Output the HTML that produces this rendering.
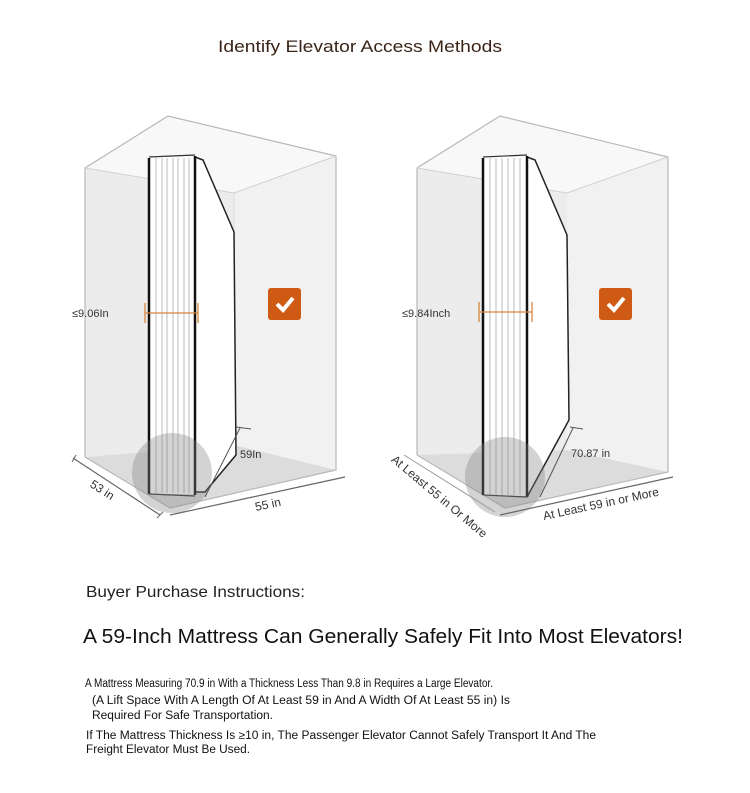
<!DOCTYPE html>
<html><head><meta charset="utf-8"><style>
html,body{margin:0;padding:0;background:#fff;}
svg{display:block;font-family:"Liberation Sans",sans-serif;}
</style></head><body>
<svg width="750" height="793" viewBox="0 0 750 793" xmlns="http://www.w3.org/2000/svg">
<rect width="750" height="793" fill="#fff"/>
<text x="218" y="52" font-size="17" fill="#3a2418" textLength="284" lengthAdjust="spacingAndGlyphs">Identify Elevator Access Methods</text>

<!-- LEFT BOX -->
<g>
<polygon points="85,168 168,116 336,156 234,193" fill="#f8f8f8"/>
<polygon points="85,168 234,193 234,445 85,457" fill="#ececec"/>
<polygon points="234,193 336,156 336,470 234,445" fill="#f1f1f1"/>
<polygon points="85,457 234,445 336,470 170,508" fill="#dcdcdc"/>
<polyline points="85,457 85,168 168,116 336,156 336,470 170,508 85,457" fill="none" stroke="#b8b8b8" stroke-width="1.2"/>
<polyline points="85,168 234,193 336,156" fill="none" stroke="#d0d0d0"/>
<line x1="234" y1="193" x2="234" y2="445" stroke="#ddd"/>
<polygon points="195,157 203,160 234,232 236,455 205,492 195,492" fill="#fff" stroke="#222" stroke-width="1.5"/>
<rect x="149" y="157" width="46" height="337" fill="#fff"/>
<g stroke="#aaa" stroke-width="0.8"><line x1="156" y1="158" x2="156" y2="493"/><line x1="162" y1="158" x2="162" y2="493"/><line x1="167" y1="158" x2="167" y2="493"/><line x1="173" y1="158" x2="173" y2="493"/><line x1="178" y1="158" x2="178" y2="493"/><line x1="184" y1="158" x2="184" y2="493"/><line x1="189" y1="158" x2="189" y2="493"/></g>
<line x1="149" y1="158" x2="149" y2="494" stroke="#111" stroke-width="2.5"/>
<line x1="195" y1="156" x2="195" y2="495" stroke="#111" stroke-width="2.5"/>
<line x1="149" y1="157" x2="195" y2="155" stroke="#333" stroke-width="1.2"/>
<line x1="149" y1="494" x2="195" y2="496" stroke="#333" stroke-width="1.2"/>
<circle cx="172" cy="473" r="40" fill="#808080" opacity="0.35"/>
<line x1="205" y1="497" x2="240" y2="428" stroke="#555" stroke-width="1"/>
<line x1="236" y1="427" x2="251" y2="429" stroke="#555"/>
<line x1="145" y1="313" x2="198" y2="313" stroke="#d7853f" stroke-width="1.3"/>
<line x1="145" y1="303" x2="145" y2="323" stroke="#d7853f" stroke-width="1.3"/>
<line x1="198" y1="303" x2="198" y2="323" stroke="#d7853f" stroke-width="1.3"/>
<text x="72" y="317" font-size="11" fill="#333">≤9.06In</text>
<text x="240" y="458" font-size="11" fill="#333">59In</text>
<rect x="268" y="288" width="33" height="32" rx="3" fill="#cf5a14"/>
<polyline points="277,304 283,310 293,298" fill="none" stroke="#fff" stroke-width="4"/>
<polyline points="73,458 160,515" fill="none" stroke="#666" stroke-width="1.2"/>
<line x1="72" y1="462" x2="76" y2="455" stroke="#666"/>
<line x1="157" y1="518" x2="163" y2="512" stroke="#666"/>
<polyline points="170,515 345,477" fill="none" stroke="#666" stroke-width="1.2"/>
<text x="88" y="490" font-size="12" fill="#333" transform="rotate(33 95 490)">53 in</text>
<text x="255" y="509" font-size="12" fill="#333" transform="rotate(-12 265 505)">55 in</text>
</g>

<!-- RIGHT BOX -->
<g>
<polygon points="417,168 500,116 668,157 567,193" fill="#f8f8f8"/>
<polygon points="417,168 567,193 567,450 417,455" fill="#ececec"/>
<polygon points="567,193 668,157 668,472 567,450" fill="#f1f1f1"/>
<polygon points="417,455 567,450 668,472 505,508" fill="#dcdcdc"/>
<polyline points="417,455 417,168 500,116 668,157 668,472 505,508 417,455" fill="none" stroke="#b8b8b8" stroke-width="1.2"/>
<polyline points="417,168 567,193 668,157" fill="none" stroke="#d0d0d0"/>
<polygon points="527,157 535,160 567,235 569,420 527,497" fill="#fff" stroke="#222" stroke-width="1.5"/>
<rect x="483" y="157" width="44" height="339" fill="#fff"/>
<g stroke="#aaa" stroke-width="0.8"><line x1="490" y1="158" x2="490" y2="495"/><line x1="496" y1="158" x2="496" y2="495"/><line x1="502" y1="158" x2="502" y2="495"/><line x1="508" y1="158" x2="508" y2="495"/><line x1="514" y1="158" x2="514" y2="495"/><line x1="520" y1="158" x2="520" y2="495"/></g>
<line x1="483" y1="158" x2="483" y2="495" stroke="#111" stroke-width="2.5"/>
<line x1="527" y1="156" x2="527" y2="497" stroke="#111" stroke-width="2.5"/>
<line x1="483" y1="157" x2="527" y2="155" stroke="#333" stroke-width="1.2"/>
<line x1="483" y1="495" x2="527" y2="497" stroke="#333" stroke-width="1.2"/>
<circle cx="505" cy="477" r="40" fill="#808080" opacity="0.35"/>
<line x1="540" y1="497" x2="573" y2="428" stroke="#555"/>
<line x1="570" y1="427" x2="583" y2="429" stroke="#555"/>
<line x1="479" y1="312" x2="532" y2="312" stroke="#d7853f" stroke-width="1.3"/>
<line x1="479" y1="302" x2="479" y2="322" stroke="#d7853f" stroke-width="1.3"/>
<line x1="532" y1="302" x2="532" y2="322" stroke="#d7853f" stroke-width="1.3"/>
<text x="402" y="317" font-size="11" fill="#333">≤9.84Inch</text>
<text x="571" y="457" font-size="11" fill="#333">70.87 in</text>
<rect x="599" y="288" width="33" height="32" rx="3" fill="#cf5a14"/>
<polyline points="608,304 614,310 624,298" fill="none" stroke="#fff" stroke-width="4"/>
<line x1="500" y1="515" x2="673" y2="477" stroke="#666" stroke-width="1.2"/>
<line x1="404" y1="455" x2="495" y2="512" stroke="#999" stroke-width="1"/>
<text x="390" y="462" font-size="12" fill="#333" transform="rotate(40 392 462)">At Least 55 in Or More</text>
<text x="544" y="520" font-size="12" fill="#333" transform="rotate(-12 544 520)">At Least 59 in or More</text>
</g>

<text x="86" y="597" font-size="16" fill="#222" textLength="219" lengthAdjust="spacingAndGlyphs">Buyer Purchase Instructions:</text>
<text x="83" y="643" font-size="20" fill="#111" textLength="600" lengthAdjust="spacingAndGlyphs">A 59-Inch Mattress Can Generally Safely Fit Into Most Elevators!</text>
<g font-size="11.5" fill="#111">
<text x="85" y="687" textLength="408" lengthAdjust="spacingAndGlyphs">A Mattress Measuring 70.9 in With a Thickness Less Than 9.8 in Requires a Large Elevator.</text>
<text x="92" y="704" textLength="418" lengthAdjust="spacingAndGlyphs">(A Lift Space With A Length Of At Least 59 in And A Width Of At Least 55 in) Is</text>
<text x="92" y="719" textLength="181" lengthAdjust="spacingAndGlyphs">Required For Safe Transportation.</text>
<text x="86" y="739" textLength="510" lengthAdjust="spacingAndGlyphs">If The Mattress Thickness Is ≥10 in, The Passenger Elevator Cannot Safely Transport It And The</text>
<text x="86" y="753" textLength="164" lengthAdjust="spacingAndGlyphs">Freight Elevator Must Be Used.</text>
</g>
</svg>
</body></html>
